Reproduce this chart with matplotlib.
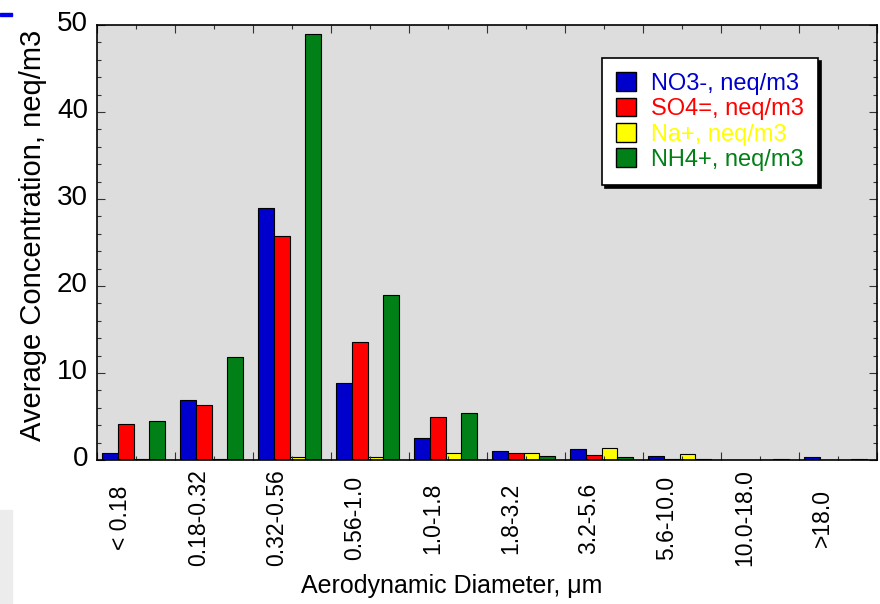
import numpy as np
import matplotlib
matplotlib.use("Agg")
import matplotlib.pyplot as plt
import matplotlib.transforms as mtransforms
from matplotlib.patches import Patch, Rectangle

plt.rcParams['font.family'] = ['Liberation Sans', 'DejaVu Sans']

# size bins and mean concentrations per ion
bins = ['< 0.18', '0.18-0.32', '0.32-0.56', '0.56-1.0', '1.0-1.8',
        '1.8-3.2', '3.2-5.6', '5.6-10.0', '10.0-18.0', '>18.0']
no3 = [0.75, 6.9, 29.0, 8.8, 2.55, 1.0, 1.3, 0.5, 0.05, 0.3]
so4 = [4.15, 6.3, 25.7, 13.6, 5.0, 0.75, 0.52, 0.1, 0.05, 0.05]
na = [0.15, 0.1, 0.3, 0.35, 0.75, 0.85, 1.4, 0.7, 0.05, 0.0]
nh4 = [4.45, 11.8, 49.0, 19.0, 5.4, 0.5, 0.38, 0.1, 0.1, 0.1]

names = ['NO3-, neq/m3', 'SO4=, neq/m3', 'Na+, neq/m3', 'NH4+, neq/m3']
colors = ['#0000cc', '#ff0000', '#ffff00', '#008016']
series = [no3, so4, na, nh4]

fig = plt.figure(figsize=(8.8, 6.04), dpi=100)
ax = fig.add_axes([97/880, 1 - 460/604, 780/880, 435/604])
ax.set_facecolor('#dcdddc')

x = np.arange(len(bins))
w = 0.2
for k, (vals, c) in enumerate(zip(series, colors)):
    ax.bar(x + (k - 1.5) * w - 0.03, vals, width=w, color=c,
           edgecolor='black', linewidth=0.8)

ax.set_xlim(-0.5, len(bins) - 0.5)
ax.set_ylim(0, 50)

# ticks: boundaries major, bin centres minor
ax.set_xticks(np.arange(-0.5, len(bins), 1.0))
ax.set_xticks(x, minor=True)
ax.set_xticklabels([])
ax.set_yticks(np.arange(0, 51, 10))
ax.set_yticks(np.arange(0, 51, 2), minor=True)
ax.tick_params(which='both', direction='in', top=True, right=True,
               width=0.8, color='#333333')
ax.tick_params(which='major', length=5.8)
ax.tick_params(which='minor', length=2.9)
ax.tick_params(axis='y', labelsize=20, pad=6.5)
shift = mtransforms.ScaledTranslation(0, 4 / 100, fig.dpi_scale_trans)
for lab in ax.get_yticklabels():
    lab.set_transform(lab.get_transform() + shift)

for sp in ax.spines.values():
    sp.set_linewidth(1.2)

for i, b in enumerate(bins):
    ax.text(i - 0.2, -58 / 435, b, transform=ax.get_xaxis_transform(),
            rotation=90, ha='center', va='center', fontsize=16.5)

fig.text(452/880, 1 - 593/604, 'Aerodynamic Diameter, \u03bcm',
         ha='center', va='baseline', fontsize=18)
fig.text(33/880, 1 - 235/604, 'Average Concentration, neq/m3',
         rotation=90, ha='center', va='center', fontsize=21)

handles = [Patch(facecolor=c, edgecolor='black', linewidth=1) for c in colors]
leg = ax.legend(handles, names, loc='upper right',
                bbox_to_anchor=(721/780, 402/435), borderaxespad=0,
                fontsize=17, handlelength=0.85, handleheight=0.85,
                handletextpad=0.62, labelspacing=0.12, borderpad=0.6,
                fancybox=False, edgecolor='black', framealpha=1,
                shadow={'color': 'black', 'alpha': 1})
leg.get_frame().set_linewidth(1.2)
for t, c in zip(leg.get_texts(), colors):
    t.set_color(c)

# stray page bits along the left edge
fig.patches.append(Rectangle((0, 1 - 16/604), 12/880, 3/604,
                             transform=fig.transFigure, color='#0000ee'))
fig.patches.append(Rectangle((0, 0), 12/880, 94/604,
                             transform=fig.transFigure, color='#ececec'))

fig.savefig('out.png', dpi=100)
